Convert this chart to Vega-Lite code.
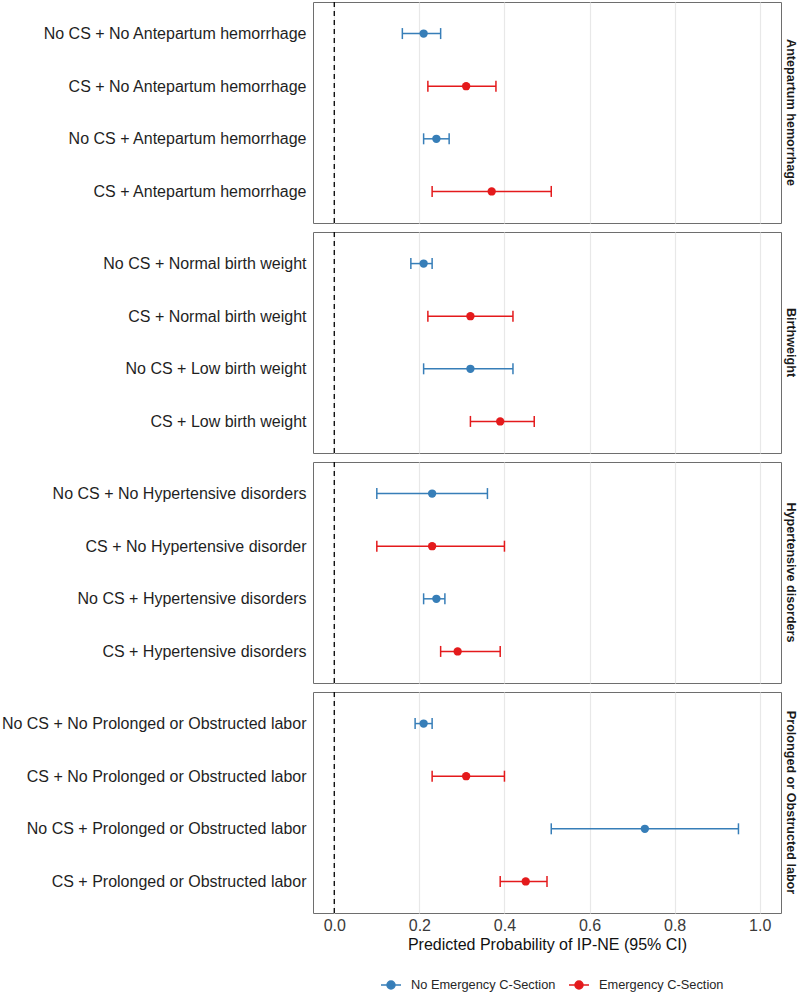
{
  "$schema": "https://vega.github.io/schema/vega-lite/v6.json",
  "padding": {"left": 0, "top": 0, "right": 0, "bottom": 0},
  "background": "white",
  "data": {"values": [
    {"panel": "Antepartum hemorrhage", "ord": 1, "label": "No CS + No Antepartum hemorrhage", "group": "No Emergency C-Section", "est": 0.21, "lo": 0.16, "hi": 0.25},
    {"panel": "Antepartum hemorrhage", "ord": 2, "label": "CS + No Antepartum hemorrhage", "group": "Emergency C-Section", "est": 0.31, "lo": 0.22, "hi": 0.38},
    {"panel": "Antepartum hemorrhage", "ord": 3, "label": "No CS + Antepartum hemorrhage", "group": "No Emergency C-Section", "est": 0.24, "lo": 0.21, "hi": 0.27},
    {"panel": "Antepartum hemorrhage", "ord": 4, "label": "CS + Antepartum hemorrhage", "group": "Emergency C-Section", "est": 0.37, "lo": 0.23, "hi": 0.51},
    {"panel": "Birthweight", "ord": 1, "label": "No CS + Normal birth weight", "group": "No Emergency C-Section", "est": 0.21, "lo": 0.18, "hi": 0.23},
    {"panel": "Birthweight", "ord": 2, "label": "CS + Normal birth weight", "group": "Emergency C-Section", "est": 0.32, "lo": 0.22, "hi": 0.42},
    {"panel": "Birthweight", "ord": 3, "label": "No CS + Low birth weight", "group": "No Emergency C-Section", "est": 0.32, "lo": 0.21, "hi": 0.42},
    {"panel": "Birthweight", "ord": 4, "label": "CS + Low birth weight", "group": "Emergency C-Section", "est": 0.39, "lo": 0.32, "hi": 0.47},
    {"panel": "Hypertensive disorders", "ord": 1, "label": "No CS + No Hypertensive disorders", "group": "No Emergency C-Section", "est": 0.23, "lo": 0.10, "hi": 0.36},
    {"panel": "Hypertensive disorders", "ord": 2, "label": "CS + No Hypertensive disorder", "group": "Emergency C-Section", "est": 0.23, "lo": 0.10, "hi": 0.40},
    {"panel": "Hypertensive disorders", "ord": 3, "label": "No CS + Hypertensive disorders", "group": "No Emergency C-Section", "est": 0.24, "lo": 0.21, "hi": 0.26},
    {"panel": "Hypertensive disorders", "ord": 4, "label": "CS + Hypertensive disorders", "group": "Emergency C-Section", "est": 0.29, "lo": 0.25, "hi": 0.39},
    {"panel": "Prolonged or Obstructed labor", "ord": 1, "label": "No CS + No Prolonged or Obstructed labor", "group": "No Emergency C-Section", "est": 0.21, "lo": 0.19, "hi": 0.23},
    {"panel": "Prolonged or Obstructed labor", "ord": 2, "label": "CS + No Prolonged or Obstructed labor", "group": "Emergency C-Section", "est": 0.31, "lo": 0.23, "hi": 0.40},
    {"panel": "Prolonged or Obstructed labor", "ord": 3, "label": "No CS + Prolonged or Obstructed labor", "group": "No Emergency C-Section", "est": 0.73, "lo": 0.51, "hi": 0.95},
    {"panel": "Prolonged or Obstructed labor", "ord": 4, "label": "CS + Prolonged or Obstructed labor", "group": "Emergency C-Section", "est": 0.45, "lo": 0.39, "hi": 0.50}
  ]},
  "facet": {
    "row": {
      "field": "panel",
      "type": "nominal",
      "sort": ["Antepartum hemorrhage", "Birthweight", "Hypertensive disorders", "Prolonged or Obstructed labor"],
      "title": null,
      "header": {"labelOrient": "right", "labelAngle": 90, "labelFontSize": 12.6, "labelFontWeight": "bold", "labelColor": "#1a1a1a", "labelPadding": 2, "labelFont": "Liberation Sans"}
    }
  },
  "spacing": 5,
  "resolve": {"scale": {"y": "independent"}},
  "spec": {
    "width": 468,
    "height": 221,
    "layer": [
      {
        "transform": [{"aggregate": [{"op": "count", "as": "n"}], "groupby": ["panel"]}],
        "mark": {"type": "rule", "strokeDash": [5, 4], "color": "black", "strokeWidth": 1.3},
        "encoding": {"x": {"datum": 0, "type": "quantitative"}}
      },
      {
        "mark": {"type": "rule", "strokeWidth": 1.5, "opacity": 1},
        "encoding": {
          "y": {"field": "label", "type": "nominal", "sort": {"field": "ord", "op": "min"}, "scale": {"type": "point", "padding": 0.6}, "axis": {"title": null, "ticks": false, "domain": false, "labelFontSize": 16, "labelPadding": 7, "labelLimit": 400, "labelColor": "#1f1f1f", "grid": false}},
          "x": {"field": "lo", "type": "quantitative", "scale": {"domain": [-0.05, 1.05], "nice": false, "zero": false},
                "axis": {"values": [0, 0.2, 0.4, 0.6, 0.8, 1.0], "format": ".1f", "grid": true, "gridColor": "#e8e8e8", "gridWidth": 1.2, "ticks": false, "domain": false, "labelFontSize": 16, "labelColor": "#3a3a3a", "labelPadding": 2, "title": "Predicted Probability of IP-NE (95% CI)", "titleFontSize": 16, "titleFontWeight": "normal", "titleColor": "#111111", "titlePadding": 3}},
          "x2": {"field": "hi"},
          "color": {"field": "group", "type": "nominal", "scale": {"domain": ["No Emergency C-Section", "Emergency C-Section"], "range": ["#377EB8", "#E41A1C"]}}
        }
      },
      {
        "mark": {"type": "tick", "orient": "vertical", "size": 11, "thickness": 1.5, "opacity": 1},
        "encoding": {
          "y": {"field": "label", "type": "nominal", "sort": {"field": "ord", "op": "min"}},
          "x": {"field": "lo", "type": "quantitative"},
          "color": {"field": "group", "type": "nominal"}
        }
      },
      {
        "mark": {"type": "tick", "orient": "vertical", "size": 11, "thickness": 1.5, "opacity": 1},
        "encoding": {
          "y": {"field": "label", "type": "nominal", "sort": {"field": "ord", "op": "min"}},
          "x": {"field": "hi", "type": "quantitative"},
          "color": {"field": "group", "type": "nominal"}
        }
      },
      {
        "mark": {"type": "circle", "size": 70, "opacity": 1},
        "encoding": {
          "y": {"field": "label", "type": "nominal", "sort": {"field": "ord", "op": "min"}},
          "x": {"field": "est", "type": "quantitative"},
          "color": {"field": "group", "type": "nominal",
            "legend": {"orient": "none", "legendX": 67, "legendY": 972, "direction": "horizontal", "title": null,
              "symbolType": "M-1,0H1M-0.4,0A0.4,0.4 0 1 1 0.4,0A0.4,0.4 0 1 1 -0.4,0",
              "symbolSize": 400, "labelFontSize": 12.8, "labelOffset": 9, "columnPadding": 10, "labelColor": "#262626", "symbolOpacity": 1,
              "encode": {"symbols": {"update": {"fill": {"scale": "color", "field": "value"}, "stroke": {"scale": "color", "field": "value"}, "strokeWidth": {"value": 1.5}, "opacity": {"value": 1}, "fillOpacity": {"value": 1}, "strokeOpacity": {"value": 1}}}}}}
        }
      }
    ]
  },
  "config": {
    "font": "Liberation Sans",
    "view": {"stroke": "#6e6e6e", "strokeWidth": 1}
  }
}
